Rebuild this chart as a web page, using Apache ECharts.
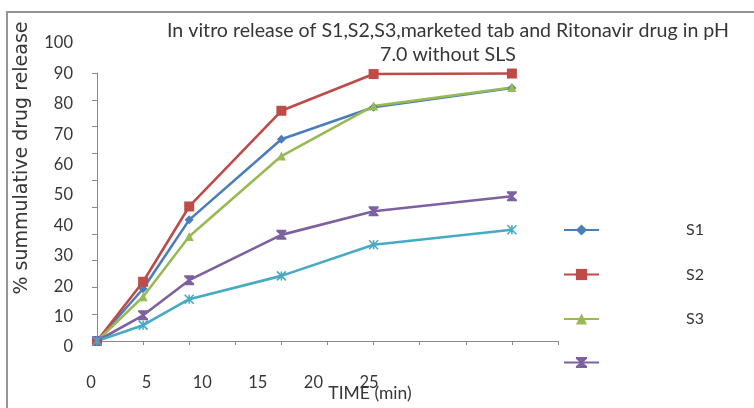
<!DOCTYPE html>
<html>
<head>
<meta charset="utf-8">
<title>In vitro release</title>
<script src="https://cdn.jsdelivr.net/npm/echarts@6/dist/echarts.min.js"></script>
<style>
  html, body { margin: 0; padding: 0; background: #ffffff; }
  #chart { width: 754px; height: 408px; }
</style>
</head>
<body>
<div id="chart"></div>
<script>
// Sampling times (min) and cumulative release (%) for each formulation
const times = [0, 5, 10, 20, 30, 45];
const s1 = [0, 19.5, 45.2, 75.3, 87.2, 94.4];
const s2 = [0, 22.1, 50.2, 85.9, 99.6, 99.8];
const s3 = [0, 16.5, 39.0, 69.0, 87.7, 94.6];
const marketed = [0, 9.6, 22.7, 39.6, 48.4, 54.0];
const ritonavir = [0, 5.9, 15.6, 24.3, 35.9, 41.5];

// Printed scale labels beside the plot
const xTickLabels = [0, 5, 10, 15, 20, 25];
const yTickLabels = [0, 10, 20, 30, 40, 50, 60, 70, 80, 90, 100];

const seriesNames = ['S1', 'S2', 'S3', 'Marketed tab', 'Ritonavir drug'];
const seriesColors = ['#4a7ebb', '#be4b48', '#98b954', '#7d60a0', '#46aac5'];

const FONT = 'Lato, "Liberation Sans", sans-serif';
const TEXT = '#363636';

const hourglass = 'path://M0,0 L10,0 L10,1.6 L6.2,5 L10,8.4 L10,10 L0,10 L0,8.4 L3.8,5 L0,1.6 Z';
const asterisk = 'path://M0,0 L10,10 M10,0 L0,10 M5,0 L5,10';

function pairs(values) {
  return times.map((t, i) => [t, values[i]]);
}

const markers = [
  { symbol: 'diamond', size: 9 },
  { symbol: 'rect', size: 10 },
  { symbol: 'triangle', size: 9 },
  { symbol: hourglass, size: 10 },
  { symbol: asterisk, size: 9 }
];
const valueSets = [s1, s2, s3, marketed, ritonavir];

const series = valueSets.map((vals, i) => ({
  name: seriesNames[i],
  type: 'line',
  xAxisIndex: 0,
  yAxisIndex: 0,
  data: pairs(vals),
  symbol: markers[i].symbol,
  symbolSize: markers[i].size,
  showAllSymbol: true,
  lineStyle: { color: seriesColors[i], width: 2.6 },
  itemStyle: i === 4
    ? { color: seriesColors[i], borderColor: seriesColors[i], borderWidth: 1.6 }
    : { color: seriesColors[i], borderWidth: 0 },
  emphasis: { disabled: true },
  animation: false
}));

const chart = echarts.init(document.getElementById('chart'), null, { renderer: 'canvas' });

chart.setOption({
  backgroundColor: '#ffffff',
  animation: false,
  grid: [
    // plotting area
    { left: 97, top: 73, width: 461, height: 268 },
    // frame that carries the printed scale labels
    { left: 91, top: 43, width: 278, height: 304 }
  ],
  xAxis: [
    {
      gridIndex: 0, type: 'value', min: 0, max: 50, interval: 5,
      axisLine: { show: true, onZero: false, lineStyle: { color: '#8a8a8a', width: 1 } },
      axisTick: { show: true, inside: false, length: 4, lineStyle: { color: '#8a8a8a' } },
      axisLabel: { show: false },
      splitLine: { show: false }
    },
    {
      gridIndex: 1, type: 'value', min: xTickLabels[0], max: xTickLabels[xTickLabels.length - 1],
      interval: xTickLabels[1] - xTickLabels[0],
      axisLine: { show: false }, axisTick: { show: false }, splitLine: { show: false },
      axisLabel: { margin: 27, color: TEXT, fontFamily: FONT, fontSize: 16.5 }
    }
  ],
  yAxis: [
    {
      gridIndex: 0, type: 'value', min: 0, max: 100, interval: 10,
      axisLine: { show: true, onZero: false, lineStyle: { color: '#8a8a8a', width: 1 } },
      axisTick: { show: true, inside: false, length: 5, lineStyle: { color: '#8a8a8a' } },
      axisLabel: { show: false },
      splitLine: { show: false }
    },
    {
      gridIndex: 1, type: 'value', min: yTickLabels[0], max: yTickLabels[yTickLabels.length - 1],
      interval: yTickLabels[1] - yTickLabels[0],
      axisLine: { show: false }, axisTick: { show: false }, splitLine: { show: false },
      axisLabel: { margin: 18, color: TEXT, fontFamily: FONT, fontSize: 16.5 }
    }
  ],
  legend: {
    orient: 'vertical',
    left: 558,
    top: 217,
    itemWidth: 35,
    itemHeight: 14,
    itemGap: 28.5,
    data: seriesNames.slice(0, 4),
    formatter: name => (name.length <= 2 ? name : ''),
    selectedMode: false,
    textStyle: { color: TEXT, fontFamily: FONT, fontSize: 16, padding: [0, 0, 8, 82] }
  },
  graphic: [
    {
      type: 'rect', silent: true, z: 0,
      shape: { x: 7, y: 12, width: 800, height: 500 },
      style: { fill: 'none', stroke: '#959595', lineWidth: 2 }
    },
    {
      type: 'text', silent: true, z: 10,
      style: {
        x: 448, y: 43, textAlign: 'center', textVerticalAlign: 'middle',
        text: 'In vitro release of S1,S2,S3,marketed tab and Ritonavir drug in pH\n7.0 without SLS',
        lineHeight: 24, fill: TEXT, font: '19.6px ' + FONT
      }
    },
    {
      type: 'text', silent: true, z: 10,
      x: 22, y: 158, rotation: Math.PI / 2,
      style: {
        x: 0, y: 0, textAlign: 'center', textVerticalAlign: 'middle',
        text: '% summulative drug release', fill: TEXT, font: '19px "DejaVu Sans", sans-serif'
      }
    },
    {
      type: 'text', silent: true, z: 10,
      style: {
        x: 370, y: 393, textAlign: 'center', textVerticalAlign: 'middle',
        text: 'TIME (min)', fill: TEXT, font: '17.5px ' + FONT
      }
    }
  ],
  series: series
});
</script>
</body>
</html>
